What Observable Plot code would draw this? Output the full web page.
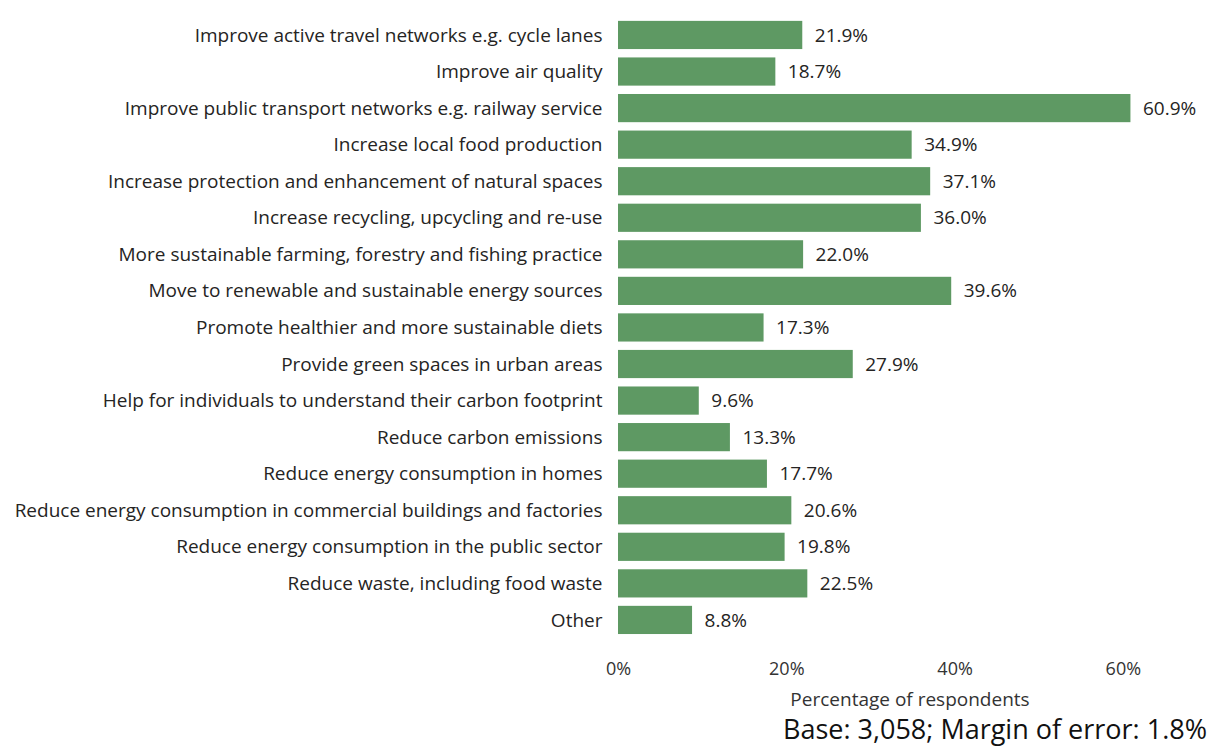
<!DOCTYPE html>
<html>
<head>
<meta charset="utf-8">
<script src="https://cdn.jsdelivr.net/npm/d3@7"></script>
<script src="https://cdn.jsdelivr.net/npm/@observablehq/plot@0.6"></script>
<style>
  html, body { margin: 0; padding: 0; background: #fff; overflow: hidden; }
  #chart { width: 1207px; height: 747px; position: relative; overflow: hidden; }
  .caption { position: absolute; right: 0px; top: 715px; font-family: "Open Sans", sans-serif; font-size: 27px; color: #111; line-height: 27px; white-space: nowrap; }
  .xtitle { position: absolute; left: 610px; width: 600px; text-align: center; top: 688px; font-family: "Open Sans", sans-serif; font-size: 19px; color: #333; line-height: 22px; white-space: nowrap; }
</style>
</head>
<body>
<div id="chart"></div>
<script>
const categories = [
  "Improve active travel networks e.g. cycle lanes",
  "Improve air quality",
  "Improve public transport networks e.g. railway service",
  "Increase local food production",
  "Increase protection and enhancement of natural spaces",
  "Increase recycling, upcycling and re-use",
  "More sustainable farming, forestry and fishing practice",
  "Move to renewable and sustainable energy sources",
  "Promote healthier and more sustainable diets",
  "Provide green spaces in urban areas",
  "Help for individuals to understand their carbon footprint",
  "Reduce carbon emissions",
  "Reduce energy consumption in homes",
  "Reduce energy consumption in commercial buildings and factories",
  "Reduce energy consumption in the public sector",
  "Reduce waste, including food waste",
  "Other"
];
const values = [21.9, 18.7, 60.9, 34.9, 37.1, 36.0, 22.0, 39.6, 17.3, 27.9, 9.6, 13.3, 17.7, 20.6, 19.8, 22.5, 8.8];
const xTicks = [0, 20, 40, 60];
const axisTitle = "Percentage of respondents";
const captionText = "Base: 3,058; Margin of error: 1.8%";

const data = categories.map((c, i) => ({category: c, value: values[i]}));

const chart = Plot.plot({
  width: 1207,
  height: 715,
  marginLeft: 618,
  marginRight: 0,
  marginTop: 12.5,
  marginBottom: 72.6,
  style: {fontFamily: "'Open Sans', sans-serif", fontSize: "19px", color: "#252423", background: "#fff", overflow: "visible"},
  x: {domain: [0, 70]},
  y: {domain: categories, padding: 0.229, round: false},
  marks: [
    Plot.ruleX(xTicks, {y1: -12, y2: 660, y: null, stroke: "#c8c6c4", strokeDasharray: "1,5", strokeWidth: 1.2}),
    Plot.barX(data, {x: "value", y: "category", fill: "#5e9963"}),
    Plot.text(data, {x: "value", y: "category", text: d => d.value.toFixed(1) + "%", textAnchor: "start", dx: 12, fill: "#252423", fontSize: 19}),
    Plot.axisX({ticks: xTicks, tickFormat: d => d + "%", tickSize: 0, tickPadding: 19, fill: "#333", fontSize: 18, label: null}),
    Plot.axisY({tickSize: 0, tickPadding: 16, fill: "#252423", fontSize: 19, label: null})
  ]
});
const root = document.getElementById("chart");
root.appendChild(chart);
const xt = document.createElement("div");
xt.className = "xtitle";
xt.textContent = axisTitle;
root.appendChild(xt);
const cap = document.createElement("div");
cap.className = "caption";
cap.textContent = captionText;
root.appendChild(cap);
</script>
</body>
</html>
